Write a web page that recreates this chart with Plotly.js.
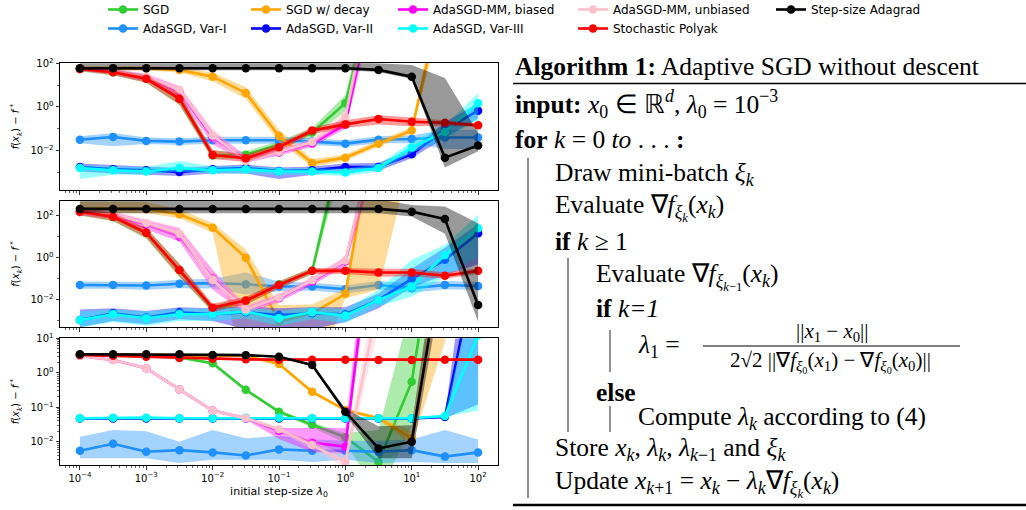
<!DOCTYPE html>
<html><head><meta charset="utf-8">
<script src="https://cdn.plot.ly/plotly-3.0.1.min.js"></script>
<style>html,body{margin:0;padding:0;background:#fff;overflow:hidden;}#chart{width:1026px;height:515px;margin-top:-5px;}</style>
</head><body><div id="chart"></div>
<script>
// ---------- data ----------
const lambda0 = [1e-4, 3.16e-4, 1e-3, 3.16e-3, 1e-2, 3.16e-2, 0.1, 0.316, 1, 3.16, 10, 31.6, 100];
const methodNames = ['SGD','AdaSGD, Var-I','SGD w/ decay','AdaSGD, Var-II','AdaSGD-MM, biased','AdaSGD, Var-III','AdaSGD-MM, unbiased','Stochastic Polyak','Step-size Adagrad'];
const methodColors = ['#32cd32','#1e90ff','#ffa500','#0000ff','#ff00ff','#00ffff','#ffc0cb','#ff0000','#000000'];
const legendCols = ['legend','legend','legend2','legend2','legend3','legend3','legend4','legend4','legend5'];
const xTickVals = [1e-4,1e-3,1e-2,1e-1,1,10,100];
const xTickText = ['10<sup>−4</sup>','10<sup>−3</sup>','10<sup>−2</sup>','10<sup>−1</sup>','10<sup>0</sup>','10<sup>1</sup>','10<sup>2</sup>'];
const yTickVals12 = [1e-2,1,1e2];
const yTickText12 = ['10<sup>−2</sup>','10<sup>0</sup>','10<sup>2</sup>'];
const yTickVals3 = [1e-2,1e-1,1,10];
const yTickText3 = ['10<sup>−2</sup>','10<sup>−1</sup>','10<sup>0</sup>','10<sup>1</sup>'];

// Panel 1
const p1_sgd    = [55, 39, 19.5, 2.4, 0.006, 0.0065, 0.019, 0.068, 1.5, 1.6e6, 1e9, 1e9, 1e9];
const p1_sgd_lo = [42, 28, 13, 1.2, 0.004, 0.0045, 0.013, 0.04, 0.63, 1e5, 1e8, 1e8, 1e8];
const p1_sgd_hi = [72, 55, 30, 4.5, 0.0095, 0.0095, 0.028, 0.11, 3.5, 1e7, 1e10, 1e10, 1e10];
const p1_var1    = [0.032, 0.042, 0.028, 0.026, 0.030, 0.030, 0.030, 0.026, 0.021, 0.032, 0.034, 0.040, 0.040];
const p1_var1_lo = [0.022, 0.016, 0.020, 0.018, 0.021, 0.021, 0.021, 0.018, 0.015, 0.022, 0.022, 0.012, 0.012];
const p1_var1_hi = [0.046, 0.065, 0.040, 0.037, 0.043, 0.043, 0.043, 0.037, 0.030, 0.046, 0.050, 0.090, 0.090];
const p1_decay    = [59, 59, 59, 50, 24.5, 4.4, 0.047, 0.0027, 0.0048, 0.021, 0.083, 5e5, 1e9];
const p1_decay_lo = [47, 47, 47, 38, 15, 2.4, 0.025, 0.0018, 0.0035, 0.015, 0.06, 5e4, 1e8];
const p1_decay_hi = [75, 75, 75, 66, 38, 8, 0.09, 0.0042, 0.0067, 0.03, 0.115, 5e6, 1e10];
const p1_var2    = [0.0018, 0.0014, 0.00126, 0.00107, 0.0014, 0.0016, 0.00117, 0.00126, 0.0018, 0.0018, 0.0068, 0.093, 0.68];
const p1_var2_lo = [0.0011, 0.0009, 0.0008, 0.0007, 0.0009, 0.0009, 0.0005, 0.0008, 0.0012, 0.0012, 0.0045, 0.04, 0.3];
const p1_var2_hi = [0.0026, 0.0022, 0.0019, 0.0016, 0.002, 0.0023, 0.0017, 0.0019, 0.0026, 0.0028, 0.011, 0.2, 1.5];
const p1_mmb    = [55, 42, 22, 5.1, 0.04, 0.004, 0.0083, 0.0214, 0.16, 2e6, 1e9, 1e9, 1e9];
const p1_mmb_lo = [45, 32, 15, 3, 0.02, 0.0028, 0.006, 0.015, 0.1, 2e5, 1e8, 1e8, 1e8];
const p1_mmb_hi = [68, 55, 32, 8.7, 0.08, 0.006, 0.012, 0.03, 0.28, 2e7, 1e10, 1e10, 1e10];
const p1_var3    = [0.0016, 0.00126, 0.00112, 0.0016, 0.00126, 0.0014, 0.00112, 0.00112, 0.001, 0.0016, 0.0138, 0.072, 1.5];
const p1_var3_lo = [0.0005, 0.0008, 0.0008, 0.0011, 0.0009, 0.0009, 0.0008, 0.0008, 0.0007, 0.0011, 0.008, 0.035, 0.25];
const p1_var3_hi = [0.0022, 0.0019, 0.0018, 0.0034, 0.0019, 0.002, 0.0016, 0.0016, 0.0015, 0.0024, 0.025, 0.15, 4.3];
const p1_mmu    = [55, 42, 24, 6, 0.05, 0.0034, 0.009, 0.025, 0.35, 1e7, 1e9, 1e9, 1e9];
const p1_mmu_lo = [45, 32, 16, 3.5, 0.025, 0.0024, 0.0065, 0.018, 0.2, 1e6, 1e8, 1e8, 1e8];
const p1_mmu_hi = [68, 55, 35, 10, 0.1, 0.005, 0.013, 0.035, 0.6, 1e8, 1e10, 1e10, 1e10];
const p1_polyak    = [55, 39, 19.5, 2.4, 0.0063, 0.0045, 0.0145, 0.083, 0.16, 0.28, 0.21, 0.19, 0.145];
const p1_polyak_lo = [44, 29, 13, 1.3, 0.0042, 0.003, 0.01, 0.058, 0.11, 0.16, 0.13, 0.14, 0.12];
const p1_polyak_hi = [68, 52, 28, 4.3, 0.011, 0.0065, 0.021, 0.115, 0.25, 0.42, 0.33, 0.25, 0.18];
const p1_ada    = [59, 59, 59, 59, 59, 59, 59, 59, 59, 50, 24.5, 0.0048, 0.0174];
const p1_ada_lo = [48, 48, 48, 48, 48, 48, 48, 48, 48, 40, 19, 0.0017, 0.0095];
const p1_ada_hi = [110, 110, 110, 110, 110, 110, 110, 110, 110, 100, 83, 21, 0.066];

// Panel 2
const p2_sgd    = [150, 85, 15, 0.26, 0.0038, 0.0085, 0.055, 0.24, 1e6, 1e9, 1e9, 1e9, 1e9];
const p2_sgd_lo = [100, 55, 8, 0.12, 0.0025, 0.0058, 0.036, 0.16, 1e5, 1e8, 1e8, 1e8, 1e8];
const p2_sgd_hi = [240, 135, 26, 0.52, 0.0058, 0.013, 0.08, 0.35, 1e7, 1e10, 1e10, 1e10, 1e10];
const p2_var1    = [0.051, 0.051, 0.048, 0.059, 0.063, 0.055, 0.043, 0.043, 0.032, 0.051, 0.036, 0.051, 0.046];
const p2_var1_lo = [0.034, 0.034, 0.030, 0.036, 0.035, 0.018, 0.025, 0.028, 0.020, 0.032, 0.022, 0.032, 0.030];
const p2_var1_hi = [0.075, 0.075, 0.070, 0.090, 0.100, 0.200, 0.075, 0.065, 0.050, 0.080, 0.060, 0.080, 0.070];
const p2_decay    = [209, 209, 209, 117, 27, 1.0, 0.00093, 0.0023, 0.019, 2.5e7, 1e10, 1e10, 1e10];
const p2_decay_lo = [130, 130, 130, 75, 16, 1e-6, 1e-6, 1e-6, 0.012, 0.03, 1e5, 1e8, 1e8];
const p2_decay_hi = [450, 450, 450, 200, 45, 2.5, 0.0058, 0.006, 0.035, 1e9, 1e12, 1e12, 1e12];
const p2_var2    = [0.0011, 0.0023, 0.00145, 0.0026, 0.0021, 0.0026, 0.0019, 0.0023, 0.0021, 0.01, 0.1, 0.8, 14.5];
const p2_var2_lo = [0.0005, 0.001, 0.0007, 0.0012, 0.001, 0.0004, 0.0003, 0.0004, 0.0009, 0.004, 0.04, 0.15, 0.5];
const p2_var2_hi = [0.0035, 0.004, 0.003, 0.0045, 0.004, 0.005, 0.004, 0.0045, 0.0045, 0.02, 0.3, 3, 40];
const p2_mmb    = [150, 100, 38, 10, 0.11, 0.0033, 0.012, 0.074, 0.66, 1.6e6, 1e9, 1e9, 1e9];
const p2_mmb_lo = [110, 70, 22, 6, 0.03, 0.0022, 0.008, 0.05, 0.4, 1e5, 1e8, 1e8, 1e8];
const p2_mmb_hi = [220, 150, 60, 25, 0.27, 0.005, 0.018, 0.11, 1.1, 1e7, 1e10, 1e10, 1e10];
const p2_var3    = [0.0011, 0.0021, 0.00135, 0.0021, 0.0021, 0.0028, 0.00135, 0.0026, 0.0018, 0.01, 0.043, 1.35, 25];
const p2_var3_lo = [0.0005, 0.0009, 0.0006, 0.001, 0.001, 0.0013, 0.0006, 0.0012, 0.0008, 0.005, 0.014, 0.13, 1.1];
const p2_var3_hi = [0.0028, 0.0035, 0.0028, 0.0038, 0.0038, 0.0045, 0.003, 0.0045, 0.0035, 0.03, 0.8, 4, 107];
const p2_mmu    = [150, 110, 45, 14, 0.09, 0.0035, 0.013, 0.085, 0.75, 2e6, 1e9, 1e9, 1e9];
const p2_mmu_lo = [110, 75, 28, 7, 0.03, 0.0024, 0.009, 0.06, 0.45, 2e5, 1e8, 1e8, 1e8];
const p2_mmu_hi = [220, 160, 70, 28, 0.25, 0.0055, 0.02, 0.13, 1.2, 2e7, 1e10, 1e10, 1e10];
const p2_polyak    = [155, 89, 15.5, 0.26, 0.0043, 0.0093, 0.051, 0.24, 0.24, 0.2, 0.2, 0.14, 0.24];
const p2_polyak_lo = [105, 58, 9, 0.13, 0.0028, 0.006, 0.035, 0.17, 0.17, 0.13, 0.13, 0.1, 0.17];
const p2_polyak_hi = [240, 135, 26, 0.52, 0.0065, 0.014, 0.075, 0.33, 0.33, 0.3, 0.3, 0.2, 0.32];
const p2_ada    = [209, 209, 209, 209, 209, 209, 209, 209, 209, 209, 155, 69, 0.0057];
const p2_ada_lo = [130, 130, 130, 130, 130, 130, 130, 130, 130, 130, 90, 14, 0.00093];
const p2_ada_hi = [600, 600, 600, 600, 600, 600, 600, 600, 600, 600, 320, 270, 44];

// Panel 3
const p3_sgd    = [3.3, 3.2, 3.0, 2.8, 1.88, 0.32, 0.074, 0.031, 0.0135, 0.0026, 0.55, 5e5, 1e8];
const p3_sgd_lo = [3.1, 3.0, 2.8, 2.6, 1.75, 0.29, 0.067, 0.026, 0.009, 0.0003, 0.028, 1e4, 1e7];
const p3_sgd_hi = [3.5, 3.4, 3.2, 3.0, 2.0, 0.35, 0.082, 0.036, 0.018, 0.022, 100, 1e7, 1e9];
const p3_var1    = [0.0055, 0.0087, 0.0051, 0.0057, 0.0049, 0.004, 0.006, 0.0055, 0.0055, 0.0051, 0.0057, 0.0037, 0.0049];
const p3_var1_lo = [0.0033, 0.0033, 0.0033, 0.0024, 0.003, 0.003, 0.003, 0.0026, 0.003, 0.0024, 0.0026, 0.0024, 0.0024];
const p3_var1_hi = [0.014, 0.022, 0.02, 0.01, 0.022, 0.0126, 0.0148, 0.0117, 0.0107, 0.0107, 0.0117, 0.022, 0.0117];
const p3_decay    = [3.3, 3.3, 3.3, 3.3, 3.2, 3.1, 1.8, 0.28, 0.083, 0.048, 0.0126, 5e3, 1e7];
const p3_decay_lo = [3.1, 3.1, 3.1, 3.1, 3.0, 2.9, 1.65, 0.25, 0.075, 0.043, 0.008, 8, 1e5];
const p3_decay_hi = [3.5, 3.5, 3.5, 3.5, 3.4, 3.3, 1.95, 0.31, 0.092, 0.054, 0.02, 5e4, 1e9];
const p3_var2    = [0.047, 0.047, 0.047, 0.047, 0.047, 0.047, 0.047, 0.047, 0.047, 0.047, 0.047, 0.052, 2.5e3];
const p3_var2_lo = [0.045, 0.045, 0.045, 0.045, 0.045, 0.045, 0.045, 0.045, 0.045, 0.045, 0.045, 0.048, 0.12];
const p3_var2_hi = [0.05, 0.05, 0.05, 0.05, 0.05, 0.05, 0.05, 0.05, 0.05, 0.05, 0.05, 0.057, 1e6];
const p3_mmb    = [3.1, 2.36, 1.35, 0.33, 0.08, 0.048, 0.021, 0.0093, 0.0072, 6e5, 1e9, 1e9, 1e9];
const p3_mmb_lo = [3.0, 2.25, 1.28, 0.31, 0.075, 0.044, 0.012, 0.005, 0.0045, 1e5, 1e8, 1e8, 1e8];
const p3_mmb_hi = [3.2, 2.5, 1.42, 0.35, 0.085, 0.052, 0.025, 0.025, 0.025, 1e7, 1e10, 1e10, 1e10];
const p3_var3    = [0.048, 0.05, 0.05, 0.048, 0.048, 0.05, 0.05, 0.048, 0.048, 0.048, 0.048, 0.056, 12];
const p3_var3_lo = [0.046, 0.048, 0.048, 0.046, 0.046, 0.048, 0.048, 0.046, 0.046, 0.046, 0.046, 0.053, 0.08];
const p3_var3_hi = [0.05, 0.052, 0.052, 0.05, 0.05, 0.052, 0.052, 0.05, 0.05, 0.05, 0.05, 0.06, 1e3];
const p3_mmu    = [3.1, 2.36, 1.35, 0.33, 0.08, 0.048, 0.023, 0.008, 0.0026, 120, 1e8, 1e8, 1e8];
const p3_mmu_lo = [2.95, 2.25, 1.25, 0.3, 0.072, 0.043, 0.02, 0.006, 0.0018, 20, 1e7, 1e7, 1e7];
const p3_mmu_hi = [3.25, 2.5, 1.45, 0.36, 0.088, 0.053, 0.027, 0.011, 0.004, 800, 1e9, 1e9, 1e9];
const p3_polyak    = [3.3, 3.1, 2.9, 2.7, 2.57, 2.45, 2.4, 2.4, 2.4, 2.35, 2.35, 2.4, 2.4];
const p3_polyak_lo = [3.1, 2.9, 2.7, 2.5, 2.4, 2.28, 2.23, 2.23, 2.23, 2.2, 2.2, 2.23, 2.23];
const p3_polyak_hi = [3.5, 3.3, 3.1, 2.9, 2.75, 2.62, 2.57, 2.57, 2.57, 2.5, 2.5, 2.57, 2.57];
const p3_ada    = [3.43, 3.43, 3.43, 3.43, 3.3, 3.25, 2.93, 1.68, 0.074, 0.0064, 0.01, 6e3, 1e6];
const p3_ada_lo = [3.3, 3.3, 3.3, 3.3, 3.15, 3.1, 2.8, 1.55, 0.06, 0.0033, 0.0033, 1e3, 1e5];
const p3_ada_hi = [3.6, 3.6, 3.6, 3.6, 3.45, 3.4, 3.05, 1.8, 0.09, 0.028, 0.03, 1e5, 1e7];

const panels = [
  {xa:'x', ya:'y', mean:[p1_sgd,p1_var1,p1_decay,p1_var2,p1_mmb,p1_var3,p1_mmu,p1_polyak,p1_ada],
   lo:[p1_sgd_lo,p1_var1_lo,p1_decay_lo,p1_var2_lo,p1_mmb_lo,p1_var3_lo,p1_mmu_lo,p1_polyak_lo,p1_ada_lo],
   hi:[p1_sgd_hi,p1_var1_hi,p1_decay_hi,p1_var2_hi,p1_mmb_hi,p1_var3_hi,p1_mmu_hi,p1_polyak_hi,p1_ada_hi]},
  {xa:'x2', ya:'y2', mean:[p2_sgd,p2_var1,p2_decay,p2_var2,p2_mmb,p2_var3,p2_mmu,p2_polyak,p2_ada],
   lo:[p2_sgd_lo,p2_var1_lo,p2_decay_lo,p2_var2_lo,p2_mmb_lo,p2_var3_lo,p2_mmu_lo,p2_polyak_lo,p2_ada_lo],
   hi:[p2_sgd_hi,p2_var1_hi,p2_decay_hi,p2_var2_hi,p2_mmb_hi,p2_var3_hi,p2_mmu_hi,p2_polyak_hi,p2_ada_hi]},
  {xa:'x3', ya:'y3', mean:[p3_sgd,p3_var1,p3_decay,p3_var2,p3_mmb,p3_var3,p3_mmu,p3_polyak,p3_ada],
   lo:[p3_sgd_lo,p3_var1_lo,p3_decay_lo,p3_var2_lo,p3_mmb_lo,p3_var3_lo,p3_mmu_lo,p3_polyak_lo,p3_ada_lo],
   hi:[p3_sgd_hi,p3_var1_hi,p3_decay_hi,p3_var2_hi,p3_mmb_hi,p3_var3_hi,p3_mmu_hi,p3_polyak_hi,p3_ada_hi]}
];

// ---------- traces ----------
function rgba(hex, a){const r=parseInt(hex.slice(1,3),16),g=parseInt(hex.slice(3,5),16),b=parseInt(hex.slice(5,7),16);return `rgba(${r},${g},${b},${a})`;}
const traces = [];
panels.forEach((p, pi) => {
  methodNames.forEach((name, mi) => {
    const c = methodColors[mi];
    traces.push({x:lambda0, y:p.hi[mi], xaxis:p.xa, yaxis:p.ya, type:'scatter', mode:'lines',
      line:{width:0, color:c}, showlegend:false, hoverinfo:'skip'});
    traces.push({x:lambda0, y:p.lo[mi], xaxis:p.xa, yaxis:p.ya, type:'scatter', mode:'lines',
      line:{width:0, color:c}, fill:'tonexty', fillcolor:rgba(c,0.4), showlegend:false, hoverinfo:'skip'});
    traces.push({x:lambda0, y:p.mean[mi], xaxis:p.xa, yaxis:p.ya, type:'scatter', mode:'lines+markers',
      name:name, line:{width:2.6, color:c}, marker:{size:8.5, color:c},
      showlegend: pi===0, legend: legendCols[mi]});
  });
});

// ---------- layout ----------
// the figure is 5 px taller and shifted up 5 px so the top legend row can sit at the very top
const W = 1026, OFF = 5, H = 510 + OFF;
const px = v => v / W, py = v => 1 - (v + OFF) / H;
const minorX = []; for (let d=-5; d<=2; d++) for (let m=2; m<=9; m++) minorX.push(m*Math.pow(10,d));
const minorY3 = []; for (let d=-3; d<=1; d++) for (let m=2; m<=9; m++) minorY3.push(m*Math.pow(10,d));
const tickFont = {family:'DejaVu Sans', size:10, color:'#000'};
function xAxis(yanchor, showLabels){
  return {type:'log', range:[-4.3,2.3], domain:[px(60),px(498)], anchor:yanchor,
    showline:true, mirror:true, linecolor:'#000', linewidth:1, showgrid:false, zeroline:false,
    ticks:'outside', ticklen:3.5, tickwidth:0.8, tickcolor:'#000', tickmode:'array',
    tickvals:xTickVals, ticktext:xTickText, showticklabels:showLabels, tickfont:tickFont,
    minor:{tickmode:'array', tickvals:minorX, ticks:'outside', ticklen:2, tickwidth:0.6, tickcolor:'#000', showgrid:false}};
}
function yAxis(xanchor, top, bottom, rng, tv, tt, mv){
  return {type:'log', range:rng, domain:[py(bottom),py(top)], anchor:xanchor,
    showline:true, mirror:true, linecolor:'#000', linewidth:1, showgrid:false, zeroline:false,
    ticks:'outside', ticklen:3.5, tickwidth:0.8, tickcolor:'#000', tickmode:'array',
    tickvals:tv, ticktext:tt, tickfont:tickFont,
    title:{text:'<i>f</i>(<i>x<sub>k</sub></i>) − <i>f</i><sup> *</sup>', font:{family:'DejaVu Sans', size:10, color:'#000'}, standoff:8},
    minor:{tickmode:'array', tickvals:mv, ticks:'outside', ticklen:2, tickwidth:0.6, tickcolor:'#000', showgrid:false}};
}
const legFont = {family:'DejaVu Sans', size:12, color:'#000'};
function leg(xpx){ return {x:px(xpx), y:1, xanchor:'left', yanchor:'top', orientation:'v', traceorder:'normal',
  bgcolor:'rgba(0,0,0,0)', font:legFont, tracegroupgap:0, itemwidth:30}; }

const serif = 'Liberation Serif';
const FS = 25.5;
function ann(xp, yp, text, size, anchor){
  return {xref:'paper', yref:'paper', x:px(xp), y:py(yp), text:text, showarrow:false,
    xanchor:anchor||'left', yanchor:'middle', font:{family:serif, size:size||FS, color:'#000'}};
}
const annotations = [
  ann(513, 66, '<b>Algorithm 1:</b> Adaptive SGD without descent'),
  ann(513, 104, '<b>input:</b> <i>x</i><sub>0</sub> ∈ ℝ<sup><i>d</i></sup>, <i>λ</i><sub>0</sub> = 10<sup>−3</sup>'),
  ann(513, 139, '<b>for</b> <i>k</i> = 0 <i>to</i> . . . <b>:</b>'),
  ann(553, 174, 'Draw mini-batch <i>ξ<sub>k</sub></i>'),
  ann(553, 207, 'Evaluate ∇<i>f</i><sub><i>ξ</i><sub><i>k</i></sub></sub>(<i>x<sub>k</sub></i>)'),
  ann(553, 242, '<b>if</b> <i>k</i> ≥ 1'),
  ann(594, 276, 'Evaluate ∇<i>f</i><sub><i>ξ</i><sub><i>k</i>−1</sub></sub>(<i>x<sub>k</sub></i>)'),
  ann(594, 308, '<b>if</b> <i>k=1</i>'),
  ann(636, 346, '<i>λ</i><sub>1</sub> ='),
  ann(832, 332, '||<i>x</i><sub>1</sub> − <i>x</i><sub>0</sub>||', 21, 'center'),
  ann(830, 362, '2√2 ||∇<i>f</i><sub><i>ξ</i><sub>0</sub></sub>(<i>x</i><sub>1</sub>) − ∇<i>f</i><sub><i>ξ</i><sub>0</sub></sub>(<i>x</i><sub>0</sub>)||', 21, 'center'),
  ann(594, 392, '<b>else</b>'),
  ann(636, 418, 'Compute <i>λ<sub>k</sub></i> according to (4)'),
  ann(553, 449, 'Store <i>x<sub>k</sub></i>, <i>λ<sub>k</sub></i>, <i>λ</i><sub><i>k</i>−1</sub> and <i>ξ<sub>k</sub></i>'),
  ann(553, 483, 'Update <i>x</i><sub><i>k</i>+1</sub> = <i>x<sub>k</sub></i> − <i>λ<sub>k</sub></i>∇<i>f</i><sub><i>ξ</i><sub><i>k</i></sub></sub>(<i>x<sub>k</sub></i>)')
];
function hline(x0,x1,y,w){return {type:'line',xref:'paper',yref:'paper',x0:px(x0),x1:px(x1),y0:py(y),y1:py(y),line:{color:'#000',width:w}};}
function vline(x,y0,y1){return {type:'line',xref:'paper',yref:'paper',x0:px(x),x1:px(x),y0:py(y0),y1:py(y1),line:{color:'#222',width:1}};}
const shapes = [
  hline(513, 1026, 83.5, 1.3),
  hline(513, 1026, 505, 2.6),
  hline(703, 960, 346, 1),
  vline(528, 158, 498),
  vline(568, 258, 432),
  vline(610, 330, 372),
  vline(610, 406, 432)
];

const layout = {
  width:W, height:H, margin:{l:0,r:0,t:0,b:0}, paper_bgcolor:'#fff', plot_bgcolor:'#fff',
  font:{family:'DejaVu Sans', color:'#000'},
  xaxis: xAxis('y', false),
  yaxis: yAxis('x', 63.3, 190, [-3.8, 2], yTickVals12, yTickText12, [1e-3,1e-1,10]),
  xaxis2: xAxis('y2', false),
  yaxis2: yAxis('x2', 200.7, 327.3, [-3.3, 2.71], yTickVals12, yTickText12, [1e-3,1e-1,10]),
  xaxis3: Object.assign(xAxis('y3', true), {title:{text:'initial step-size <i>λ</i><sub>0</sub>', font:{family:'DejaVu Sans', size:11, color:'#000'}, standoff:4}}),
  yaxis3: yAxis('x3', 338.3, 465, [-2.675, 1], yTickVals3, yTickText3, minorY3),
  legend: leg(103), legend2: leg(246), legend3: leg(393), legend4: leg(573), legend5: leg(771),
  annotations: annotations, shapes: shapes, hovermode:false
};
Plotly.newPlot('chart', traces, layout, {staticPlot:true, displayModeBar:false});
</script></body></html>
